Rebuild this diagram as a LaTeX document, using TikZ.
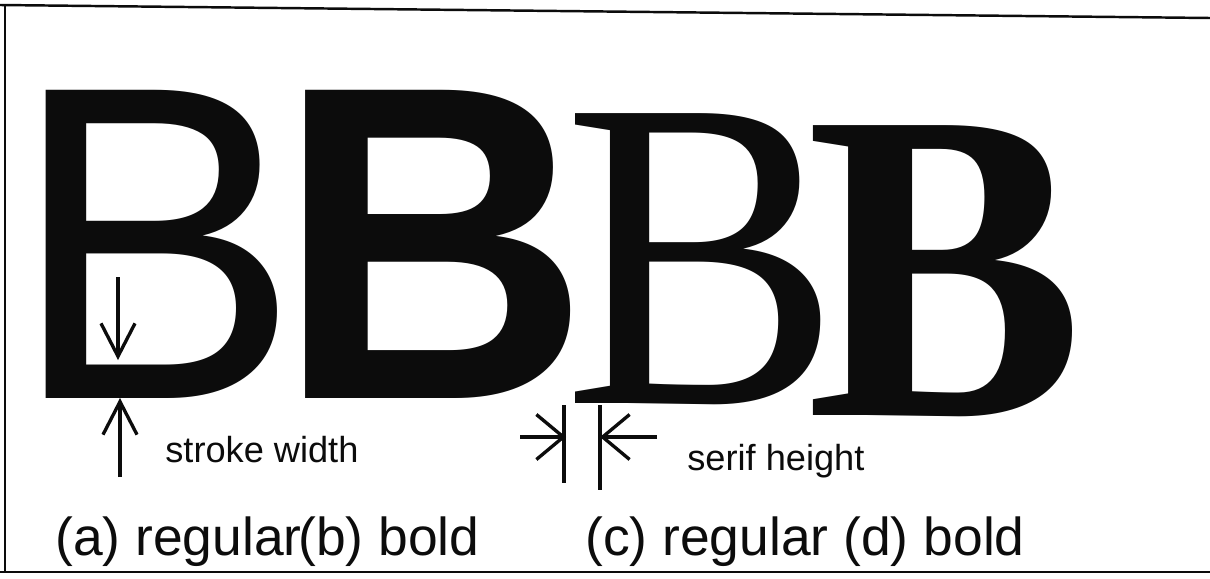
\documentclass[tikz,border=0pt]{standalone}
\usepackage{fontspec}
\usepackage{graphicx}
\usepackage{tikz}
\usetikzlibrary{arrows.meta, positioning}
\newfontfamily\arialfont{Liberation Sans}
\newfontfamily\timesfont{Liberation Serif}
\definecolor{inkblack}{RGB}{12, 12, 12}
\newcommand{\narrowB}[1]{\scalebox{#1}[1]{B}}

\begin{document}
\begin{tikzpicture}[
    x=0.02cm, y=-0.02cm,
    bigsans/.style={inner sep=0pt, anchor=base, text=inkblack,
                    font=\arialfont\fontsize{255}{255}\selectfont},
    bigserif/.style={inner sep=0pt, anchor=base, text=inkblack,
                     font=\timesfont\fontsize{252}{252}\selectfont},
    note/.style={inner sep=0pt, anchor=base west, text=inkblack,
                 font=\arialfont\fontsize{20.6}{20.6}\selectfont},
    caption/.style={inner sep=0pt, anchor=base west, text=inkblack,
                    font=\arialfont\fontsize{30.4}{30.4}\selectfont},
    frameline/.style={draw=inkblack, line width=1.4pt},
    dimline/.style={draw=inkblack, line width=1.9pt},
    vdim/.style={dimline, -{Straight Barb[length=0.66cm, width=0.68cm]}},
    hdim/.style={dimline, -{Straight Barb[length=0.54cm, width=0.9cm]}},
]
\useasboundingbox (0,0) rectangle (1210,578);
\fill[white] (0,0) rectangle (1210,578);

%% ── Frame ──────────────────────────────────────────────────────────────────
\draw[frameline] (0,5) -- (1210,18);
\draw[frameline] (5,5) -- (5,572);
\draw[frameline] (0,572) -- (1210,572);

%% ── Letters ────────────────────────────────────────────────────────────────
\node[bigsans]                      (bA) at (155,398) {\narrowB{0.97}};
\node[bigsans, font=\arialfont\bfseries\fontsize{255}{255}\selectfont]
                                    (bB) at (433,398) {\narrowB{0.97}};
\node[bigserif]                     (bC) at (702,403) {\narrowB{0.94}};
\node[bigserif, font=\timesfont\bfseries\fontsize{252}{252}\selectfont]
                                    (bD) at (945,415) {\narrowB{0.94}};

%% ── Stroke width ───────────────────────────────────────────────────────────
\coordinate (swTop)    at (118,277);
\coordinate (swTopTip) at (118,360);
\coordinate (swBot)    at (120,477);
\coordinate (swBotTip) at (120,398);
\draw[vdim] (swTop) -- (swTopTip);
\draw[vdim] (swBot) -- (swBotTip);
\node[note] (swLabel) at (165,462) {stroke width};

%% ── Serif height ───────────────────────────────────────────────────────────
\coordinate (shLeft)     at (520,437);
\coordinate (shLeftTip)  at (566,437);
\coordinate (shRight)    at (657,437);
\coordinate (shRightTip) at (600,437);
\coordinate (tickLTop) at (564,405);
\coordinate (tickLBot) at (564,483);
\coordinate (tickRTop) at (600,405);
\coordinate (tickRBot) at (600,490);
\draw[dimline] (tickLTop) -- (tickLBot);
\draw[dimline] (tickRTop) -- (tickRBot);
\draw[hdim] (shLeft) -- (shLeftTip);
\draw[hdim] (shRight) -- (shRightTip);
\node[note] (shLabel) at (687,470) {serif height};

%% ── Captions ───────────────────────────────────────────────────────────────
\node[caption] (capA) at (55,555)  {(a) regular};
\node[caption] (capB) at (298,555) {(b) bold};
\node[caption] (capC) at (585,555) {(c) regular (d) bold};

\end{tikzpicture}
\end{document}
